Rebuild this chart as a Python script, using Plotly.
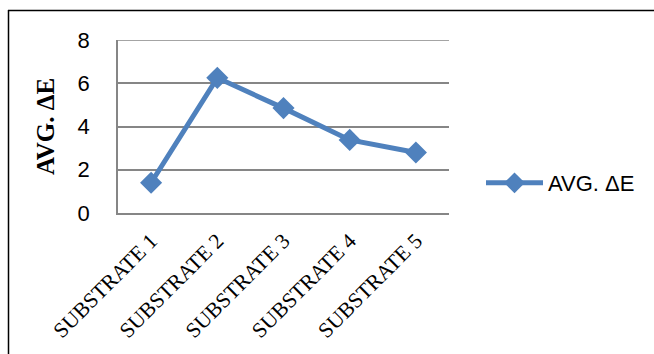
import plotly.graph_objects as go

categories = ["SUBSTRATE 1", "SUBSTRATE 2", "SUBSTRATE 3", "SUBSTRATE 4", "SUBSTRATE 5"]
avg_delta_e = [1.4, 6.25, 4.85, 3.38, 2.8]
y_ticks = [0, 2, 4, 6, 8]

W, H = 654, 354
L, R, T, B = 118, 449, 40, 213

fig = go.Figure()
fig.add_trace(go.Scatter(
    x=categories, y=avg_delta_e, mode="lines+markers", name="AVG. ΔE",
    line=dict(color="#4F81BD", width=5),
    marker=dict(symbol="diamond", size=17, color="#4F81BD"),
))

pw = R - L
ph = B - T
def px(x):
    return (x - L) / pw
def py(y):
    return (B - y) / ph

fig.update_layout(
    width=W, height=H,
    margin=dict(l=L, r=W - R, t=T, b=H - B, autoexpand=False),
    paper_bgcolor="white", plot_bgcolor="white",
    showlegend=True,
    legend=dict(x=px(481), y=py(183), xanchor="left", yanchor="middle", itemwidth=57,
                font=dict(family="Liberation Sans, Arial, sans-serif", size=22, color="black"),
                bgcolor="rgba(0,0,0,0)"),
    xaxis=dict(
        type="category", range=[-0.5, 4.5],
        showgrid=False, showline=True, linecolor="#868686", linewidth=1.5,
        ticks="", tickangle=-45, ticklabelstandoff=5,
        tickfont=dict(family="Liberation Serif, Times New Roman, serif", size=21.5, color="black"),
    ),
    yaxis=dict(
        range=[0, 8], tickvals=y_ticks, ticktext=[str(v) for v in y_ticks],
        showgrid=True, gridcolor="#868686", gridwidth=1.5,
        showline=True, linecolor="#868686", linewidth=1.5,
        zeroline=False, ticks="", ticklabelstandoff=22,
        tickfont=dict(family="Liberation Sans, Arial, sans-serif", size=22, color="black"),
        title=dict(text="<b>AVG. ΔE</b>", standoff=16,
                   font=dict(family="Liberation Serif, Times New Roman, serif", size=25, color="black")),
    ),
    shapes=[
        dict(type="line", xref="paper", yref="y", x0=0, x1=1, y0=y_ticks[-1], y1=y_ticks[-1],
             line=dict(color="#868686", width=1.5), layer="below"),
        dict(type="line", xref="paper", yref="paper", x0=px(8), x1=px(W + 5), y0=py(10.5), y1=py(10.5),
             line=dict(color="black", width=1.5)),
        dict(type="line", xref="paper", yref="paper", x0=px(8.5), x1=px(8.5), y0=py(10), y1=py(H + 5),
             line=dict(color="black", width=1.5)),
    ],
)

fig.write_html("out.html")
